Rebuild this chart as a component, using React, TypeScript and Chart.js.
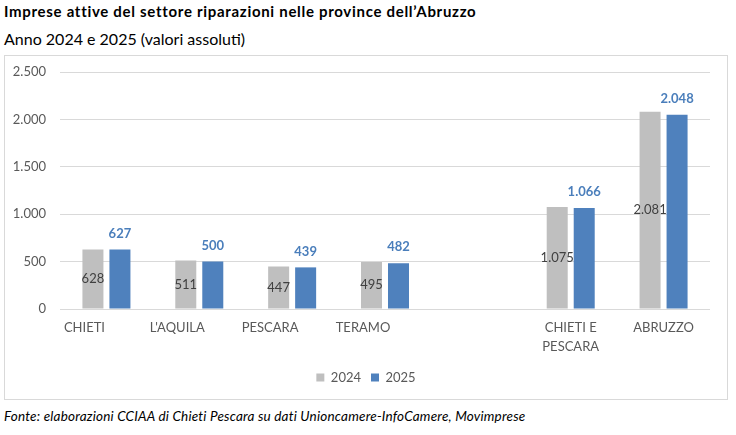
import React, { useEffect, useRef } from "react";
import { Chart, registerables } from "chart.js";

Chart.register(...registerables);

const TITLE = "Imprese attive del settore riparazioni nelle province dell’Abruzzo";
const SUBTITLE = "Anno 2024 e 2025 (valori assoluti)";
const SOURCE = "Fonte: elaborazioni CCIAA di Chieti Pescara su dati Unioncamere-InfoCamere, Movimprese";

const categories: string[][] = [
  ["CHIETI"],
  ["L'AQUILA"],
  ["PESCARA"],
  ["TERAMO"],
  [""],
  ["CHIETI E", "PESCARA"],
  ["ABRUZZO"],
];
const seriesNames = ["2024", "2025"];
const values2024: (number | null)[] = [628, 511, 447, 495, null, 1075, 2081];
const values2025: (number | null)[] = [627, 500, 439, 482, null, 1066, 2048];
const yTicks = [0, 500, 1000, 1500, 2000, 2500];

const FONT = "Lato, 'Noto Sans', sans-serif";
const GRAY = "#BFBFBF";
const BLUE = "#4F81BD";
const TEXT = "#595959";

const fmt = (n: number) => {
  const s = Math.round(n).toString();
  return s.replace(/\B(?=(\d{3})+(?!\d))/g, ".");
};

const labelsPlugin = {
  id: "customLabels",
  afterDatasetsDraw(chart: any) {
    const ctx = chart.ctx;
    ctx.save();
    // value labels
    chart.data.datasets.forEach((ds: any, di: number) => {
      const meta = chart.getDatasetMeta(di);
      meta.data.forEach((bar: any, i: number) => {
        const v = ds.data[i];
        if (v == null) return;
        const { x, y, base } = bar.getProps(["x", "y", "base"], true);
        ctx.textAlign = "center";
        ctx.textBaseline = "middle";
        if (di === 0) {
          ctx.font = `13px ${FONT}`;
          ctx.fillStyle = "#404040";
          ctx.fillText(fmt(v), x, (y + base) / 2);
        } else {
          ctx.font = `bold 13px ${FONT}`;
          ctx.fillStyle = "#4A7EBB";
          ctx.fillText(fmt(v), x, y - 16);
        }
      });
    });
    // category labels
    const xs = chart.scales.x;
    const top = chart.chartArea.bottom;
    ctx.font = `13px ${FONT}`;
    ctx.fillStyle = TEXT;
    ctx.textAlign = "center";
    ctx.textBaseline = "middle";
    categories.forEach((lines, i) => {
      const shift = i < 4 ? -22 : 0;
      const cx = xs.getPixelForValue(i) + shift;
      lines.forEach((ln, li) => {
        ctx.fillText(ln, cx, top + 19 + li * 19);
      });
    });
    ctx.restore();
  },
};

function BarChart() {
  const ref = useRef<HTMLCanvasElement>(null);
  useEffect(() => {
    if (!ref.current) return;
    const chart = new Chart(ref.current, {
      type: "bar",
      data: {
        labels: categories.map((c) => c.join(" ")),
        datasets: [
          {
            label: seriesNames[0],
            data: values2024,
            backgroundColor: GRAY,
            borderWidth: 0,
          },
          {
            label: seriesNames[1],
            data: values2025,
            backgroundColor: BLUE,
            borderWidth: 0,
          },
        ],
      },
      options: {
        animation: false,
        responsive: false,
        maintainAspectRatio: false,
        devicePixelRatio: 1,
        layout: { padding: { left: 0, right: 0, top: 16, bottom: 5 } },
        datasets: {
          bar: { categoryPercentage: 0.5815, barPercentage: 0.778 },
        },
        plugins: {
          legend: {
            position: "bottom",
            labels: {
              boxWidth: 8,
              boxHeight: 8,
              padding: 10,
              color: TEXT,
              font: { family: FONT, size: 13 },
            },
          },
          tooltip: { enabled: false },
          title: { display: false },
        },
        scales: {
          x: {
            grid: { display: false, drawTicks: false },
            border: { display: false },
            ticks: { display: false },
            afterFit: (s: any) => {
              s.height = 52;
              s.paddingLeft = 0;
              s.paddingRight = 0;
            },
          },
          y: {
            min: 0,
            max: 2500,
            afterBuildTicks: (s: any) => {
              s.ticks = yTicks.map((v) => ({ value: v }));
            },
            grid: { color: "#D9D9D9", lineWidth: 1, drawTicks: false },
            border: { display: false },
            ticks: {
              padding: 14,
              color: TEXT,
              font: { family: FONT, size: 13 },
              callback: (v: any) => fmt(Number(v)),
            },
            afterFit: (s: any) => {
              s.width = 55;
              s.paddingTop = 0;
              s.paddingBottom = 0;
            },
          },
          yRight: {
            position: "right",
            display: true,
            grid: { display: false, drawTicks: false },
            border: { display: false },
            ticks: { display: false },
            afterFit: (s: any) => {
              s.width = 17;
              s.paddingTop = 0;
              s.paddingBottom = 0;
            },
          },
        },
      },
      plugins: [labelsPlugin],
    });
    return () => chart.destroy();
  }, []);
  return <canvas ref={ref} width={722} height={343} style={{ display: "block", width: 722, height: 343 }} />;
}

export default function App() {
  return (
    <div style={{ position: "absolute", left: 0, top: 0, width: 736, height: 435, background: "#fff", fontFamily: FONT, color: "#000" }}>
      <div style={{ position: "absolute", left: 4, top: 2, fontWeight: 700, fontSize: 15, letterSpacing: "0.7px", lineHeight: "18px", whiteSpace: "nowrap" }}>{TITLE}</div>
      <div style={{ position: "absolute", left: 4, top: 29, fontSize: 16, lineHeight: "19px", whiteSpace: "nowrap" }}>{SUBTITLE}</div>
      <div style={{ position: "absolute", left: 4, top: 55, width: 724, height: 345, border: "1px solid #D9D9D9", boxSizing: "border-box" }}>
        <BarChart />
      </div>
      <div style={{ position: "absolute", left: 4, top: 408, fontStyle: "italic", fontSize: 13.5, letterSpacing: "0.2px", lineHeight: "17px", whiteSpace: "nowrap" }}>{SOURCE}</div>
    </div>
  );
}
